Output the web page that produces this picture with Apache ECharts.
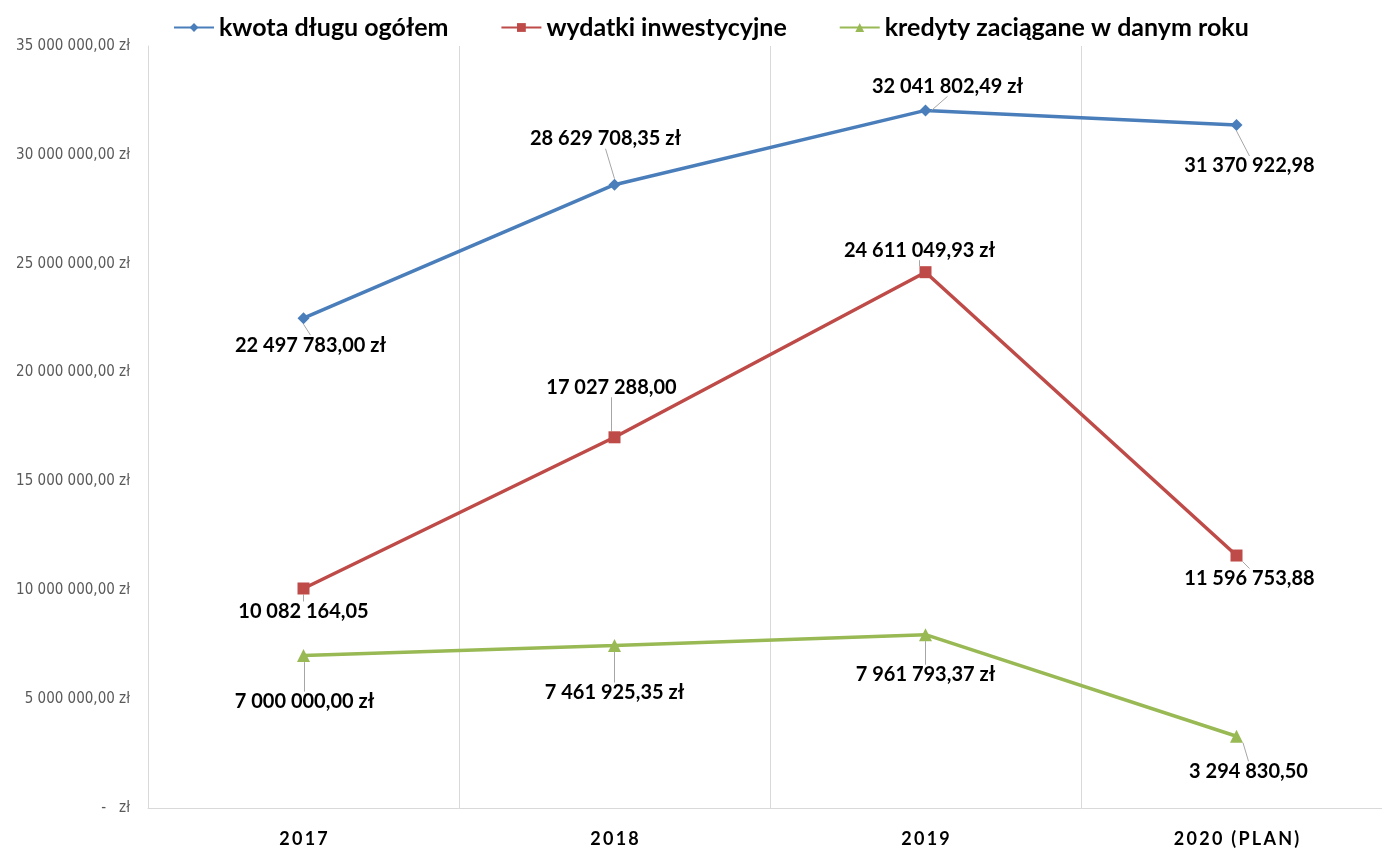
<!DOCTYPE html>
<html style="height: 100%">
<head>
    <meta charset="utf-8">
    <script src="https://cdn.jsdelivr.net/npm/echarts@6/dist/echarts.min.js"></script>
</head>
<body style="height: 100%; margin: 0; background: #fff; overflow: hidden">
<div id="container" style="width: 1392px; height: 849px"></div>
<script type="text/javascript">
    var years = ['2017', '2018', '2019', '2020 (PLAN)'];

    var kwotaDlugu = [22497783.00, 28629708.35, 32041802.49, 31370922.98];
    var wydatkiInw = [10082164.05, 17027288.00, 24611049.93, 11596753.88];
    var kredyty = [7000000.00, 7461925.35, 7961793.37, 3294830.50];

    // which labels carry the " zł" suffix in the original
    var kwotaZl = [true, true, true, false];
    var wydatkiZl = [false, false, true, false];
    var kredytyZl = [true, true, true, false];

    // label shifts relative to the point (dx, dy)
    var kwotaShift = [[7, 27], [-9, -46], [22, -24], [13, 41]];
    var wydatkiShift = [[0, 23], [-3, -50], [-6, -22], [13, 23]];
    var kredytyShift = [[1, 46], [0, 47], [0, 40], [12, 35]];

    function fmt(v) {
        var parts = v.toFixed(2).split('.');
        var intPart = parts[0].replace(/\B(?=(\d{3})+(?!\d))/g, ' ');
        return intPart + ',' + parts[1];
    }

    var dom = document.getElementById("container");
    var myChart = echarts.init(dom);

    function makeSeries(name, data, zl, shift, color, symbol, symbolSize) {
        return {
            name: name,
            type: 'line',
            data: data,
            symbol: symbol,
            symbolSize: symbolSize,
            lineStyle: {color: color, width: 3.5},
            itemStyle: {color: color},
            label: {
                show: true,
                position: 'inside',
                fontFamily: 'Lato',
                fontWeight: 'bold',
                fontSize: 20,
                color: '#000',
                formatter: function (p) {
                    return fmt(p.value) + (zl[p.dataIndex] ? ' zł' : '');
                }
            },
            labelLine: {
                show: true,
                lineStyle: {color: '#a6a6a6', width: 1}
            },
            labelLayout: function (p) {
                var s = shift[p.dataIndex];
                return {dx: s[0], dy: s[1]};
            },
            emphasis: {disabled: true}
        };
    }

    var option = {
        animation: false,
        legend: {
            top: 10,
            left: 168,
            itemWidth: 40,
            itemHeight: 11,
            itemGap: 52,
            textStyle: {
                fontFamily: 'Lato',
                fontWeight: 'bold',
                fontSize: 25,
                color: '#000'
            },
            data: ['kwota długu ogółem', 'wydatki inwestycyjne', 'kredyty zaciągane w danym roku']
        },
        grid: {
            left: 148,
            right: 0,
            top: 46,
            bottom: 41
        },
        xAxis: {
            type: 'category',
            data: years,
            boundaryGap: true,
            axisLine: {lineStyle: {color: '#d9d9d9', width: 1}},
            axisTick: {show: false},
            splitLine: {show: true, lineStyle: {color: '#d9d9d9', width: 1}},
            axisLabel: {
                margin: 22,
                fontFamily: 'Lato',
                fontWeight: 'bold',
                fontSize: 18,
                color: '#000',
                formatter: function (v) {
                    return v.split('').join('\u2009');
                }
            }
        },
        yAxis: {
            type: 'value',
            min: 0,
            max: 35000000,
            interval: 5000000,
            axisLine: {show: true, lineStyle: {color: '#d9d9d9', width: 1}},
            axisTick: {show: false},
            splitLine: {show: false},
            axisLabel: {
                margin: 18,
                fontFamily: 'Liberation Sans Narrow, DejaVu Sans Condensed, sans-serif',
                fontSize: 15,
                color: '#595959',
                formatter: function (v) {
                    if (v === 0) return '-   zł';
                    return fmt(v) + ' zł';
                }
            }
        },
        series: [
            makeSeries('kwota długu ogółem', kwotaDlugu, kwotaZl, kwotaShift, '#4a7ebb', 'diamond', 12),
            makeSeries('wydatki inwestycyjne', wydatkiInw, wydatkiZl, wydatkiShift, '#be4b48', 'rect', 12),
            makeSeries('kredyty zaciągane w danym roku', kredyty, kredytyZl, kredytyShift, '#98b954', 'triangle', 13)
        ]
    };

    myChart.setOption(option);
</script>
</body>
</html>
